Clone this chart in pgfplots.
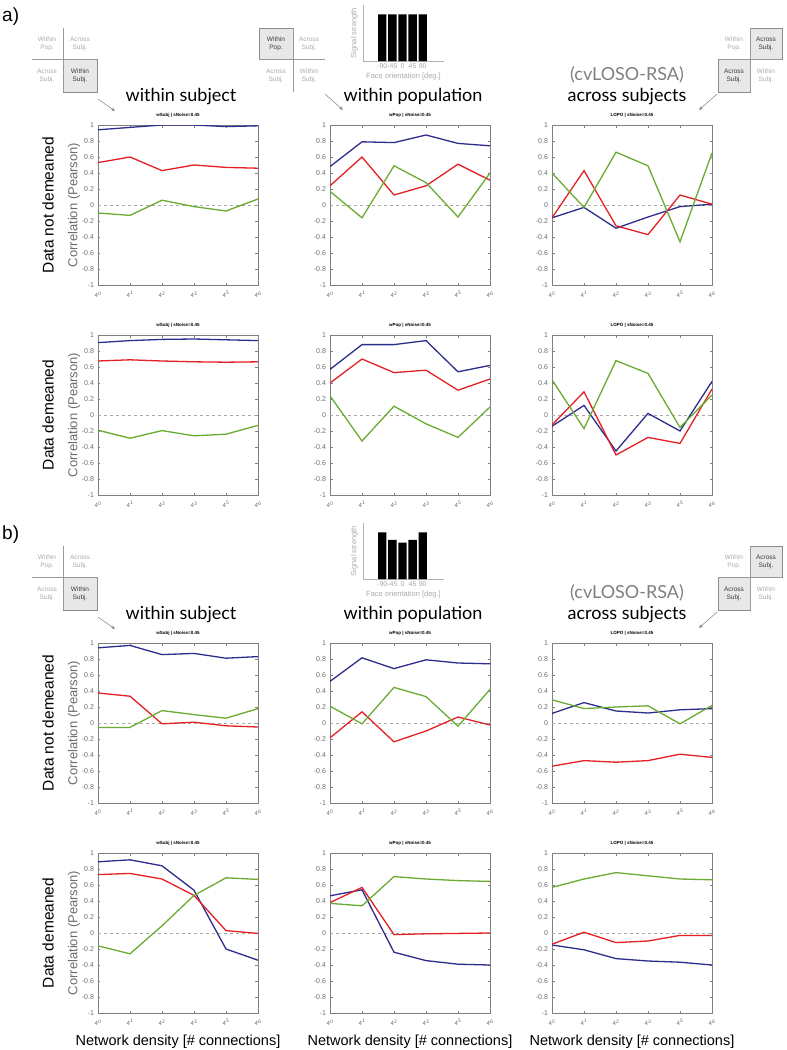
\documentclass[border=0pt]{standalone}
\usepackage{pgfplots}
\pgfplotsset{compat=1.18}
\usepackage{fontspec}
\setmainfont{Liberation Sans}
\newfontfamily\headfont{Lato}
\usetikzlibrary{arrows.meta}

\definecolor{cblue}{RGB}{45,45,140}
\definecolor{cred}{RGB}{228,32,36}
\definecolor{cgreen}{RGB}{106,172,50}
\definecolor{tgray}{RGB}{110,110,110}
\definecolor{lgray}{RGB}{170,170,170}
\definecolor{dgray}{RGB}{60,60,60}

\pgfplotsset{
 panel/.style={
  width=160pt, height=160pt, scale only axis, anchor=north west,
  xmin=0, xmax=5, ymin=-1, ymax=1,
  xtick={0,1,2,3,4,5},
  xticklabels={4\textsuperscript{0},4\textsuperscript{1},4\textsuperscript{2},4\textsuperscript{3},4\textsuperscript{5},4\textsuperscript{6}},
  ytick={-1,-0.8,-0.6,-0.4,-0.2,0,0.2,0.4,0.6,0.8,1},
  yticklabels={-1,-0.8,-0.6,-0.4,-0.2,0,0.2,0.4,0.6,0.8,1},
  tick align=inside, major tick length=2.5pt,
  axis line style={draw=black!50, line width=0.9pt},
  every tick/.style={black!50, line width=0.5pt},
  yticklabel style={font=\fontsize{7}{8}\selectfont, text=tgray, xshift=-0.5pt},
  xticklabel style={font=\fontsize{6}{7}\selectfont, text=tgray, yshift=-3pt},
  title style={font=\bfseries\fontsize{4.5}{5}\selectfont, at={(0.5,1)}, anchor=south, inner sep=1pt},
  every axis plot/.append style={line width=1.3pt},
 },
 inset/.style={
  width=81pt, height=56pt, scale only axis, anchor=south west,
  ybar, bar width=8.4pt, xmin=-1.9, xmax=6.1, ymin=0, ymax=1.2,
  axis x line*=bottom, axis y line*=left,
  axis line style={draw=black!30, line width=0.8pt, -},
  ytick=\empty, xtick={0,1,2,3,4}, xticklabels={-90,-45,0,45,90},
  major tick length=0pt,
  xticklabel style={font=\fontsize{7}{8}\selectfont, text=lgray, inner sep=1pt, yshift=-1pt},
  xlabel={Face orientation [deg.]},
  xlabel style={font=\fontsize{7.5}{8}\selectfont, text=lgray, at={(axis description cs:0.5,0)}, anchor=north, yshift=-12pt, inner sep=0pt},
  ylabel={Signal strength},
  ylabel style={font=\fontsize{7.5}{8}\selectfont, text=lgray, at={(axis description cs:-0.06,0.5)}, anchor=south, inner sep=0pt},
 }
}

\tikzset{
 gl/.style={draw=black!40, line width=0.6pt},
 cellbox/.style={draw=black!45, fill=black!9, line width=0.6pt},
 ct/.style={align=center, font=\fontsize{6.5}{7.5}\selectfont, inner sep=0pt},
 arr/.style={draw=black!50, line width=0.5pt, -{Stealth[length=4pt,width=3pt]}},
 head/.style={anchor=base, font=\headfont\fontsize{18}{20}\selectfont},
}

\newcommand{\leftgrid}{%
 \draw[cellbox] (63pt,-59pt) rectangle (97pt,-92pt);
 \draw[gl] (63pt,-28pt) -- (63pt,-92pt);
 \draw[gl] (32pt,-59pt) -- (97pt,-59pt);
 \node[ct, text=lgray] at (47pt,-44pt) {Within\\Pop.};
 \node[ct, text=lgray] at (80pt,-44pt) {Across\\Subj.};
 \node[ct, text=lgray] at (47pt,-76pt) {Across\\Subj.};
 \node[ct, text=dgray] at (80pt,-76pt) {Within\\Subj.};
 \draw[arr] (98pt,-99pt) -- (115pt,-111pt);
}
\newcommand{\midgrid}{%
 \draw[cellbox] (259pt,-28pt) rectangle (293pt,-59pt);
 \draw[gl] (293pt,-28pt) -- (293pt,-92pt);
 \draw[gl] (259pt,-59pt) -- (325pt,-59pt);
 \node[ct, text=dgray] at (276pt,-44pt) {Within\\Pop.};
 \node[ct, text=lgray] at (309pt,-44pt) {Across\\Subj.};
 \node[ct, text=lgray] at (276pt,-76pt) {Across\\Subj.};
 \node[ct, text=lgray] at (309pt,-76pt) {Within\\Subj.};
 \draw[arr] (325pt,-94pt) -- (343pt,-110pt);
}
\newcommand{\rightgrid}{%
 \draw[cellbox] (750pt,-28pt) rectangle (782pt,-59pt);
 \draw[cellbox] (718pt,-59pt) rectangle (750pt,-92pt);
 \draw[gl] (750pt,-28pt) -- (750pt,-92pt);
 \draw[gl] (718pt,-59pt) -- (782pt,-59pt);
 \node[ct, text=lgray] at (734pt,-44pt) {Within\\Pop.};
 \node[ct, text=dgray] at (766pt,-44pt) {Across\\Subj.};
 \node[ct, text=dgray] at (734pt,-76pt) {Across\\Subj.};
 \node[ct, text=lgray] at (766pt,-76pt) {Within\\Subj.};
 \draw[arr] (717pt,-94pt) -- (699pt,-110pt);
}
\newcommand{\headers}{%
 \node[head] at (181pt,-101pt) {within subject};
 \node[head] at (413pt,-101pt) {within population};
 \node[head, text=black!50] at (627pt,-80pt) {(cvLOSO-RSA)};
 \node[head] at (627pt,-101pt) {across subjects};
}

\begin{document}
\begin{tikzpicture}
\path[use as bounding box, fill=white] (0pt,0pt) rectangle (787pt,-1050pt);

% section labels
\node[anchor=base west, font=\fontsize{19}{20}\selectfont, inner sep=0pt] at (2pt,-21pt) {a)};
\node[anchor=base west, font=\fontsize{19}{20}\selectfont, inner sep=0pt] at (2pt,-539pt) {b)};

\leftgrid \midgrid \rightgrid \headers
\begin{scope}[yshift=-518pt]
\leftgrid \rightgrid \headers
\end{scope}

% row labels
\foreach \yc/\txt in {205/Data not demeaned, 415/Data demeaned, 723/Data not demeaned, 933/Data demeaned}{
 \node[rotate=90, font=\fontsize{15.5}{17}\selectfont] at (48pt,-\yc pt) {\txt};
 \node[rotate=90, font=\fontsize{13}{14}\selectfont, text=tgray] at (74pt,-\yc pt) {Correlation (Pearson)};
}

% bottom x labels
\foreach \xc in {178,410,632}{
 \node[anchor=base, font=\fontsize{14.5}{16}\selectfont] at (\xc pt,-1045pt) {Network density [\# connections]};
}

% ---------- insets ----------
\begin{axis}[inset, at={(363pt,-61pt)}]
\addplot[fill=black, draw=none] coordinates {(0,1) (1,1) (2,1) (3,1) (4,1)};
\end{axis}
\begin{axis}[inset, at={(363pt,-579pt)}]
\addplot[fill=black, draw=none] coordinates {(0,1) (1,0.84) (2,0.78) (3,0.84) (4,1)};
\end{axis}

% ---------- a) row 1 ----------
\begin{axis}[panel, at={(98pt,-125pt)}, title={wSubj | sNoise=0.45}]
\addplot[lgray, dashed, line width=0.7pt] coordinates {(0,0) (5,0)};
\addplot[cblue] coordinates {(0,0.94) (1,0.97) (2,1.0) (3,1.0) (4,0.98) (5,0.99)};
\addplot[cred] coordinates {(0,0.53) (1,0.60) (2,0.43) (3,0.50) (4,0.47) (5,0.46)};
\addplot[cgreen] coordinates {(0,-0.10) (1,-0.13) (2,0.06) (3,-0.02) (4,-0.075) (5,0.075)};
\end{axis}
\begin{axis}[panel, at={(330pt,-125pt)}, title={wPop | sNoise=0.45}]
\addplot[lgray, dashed, line width=0.7pt] coordinates {(0,0) (5,0)};
\addplot[cblue] coordinates {(0,0.48) (1,0.79) (2,0.78) (3,0.875) (4,0.77) (5,0.74)};
\addplot[cred] coordinates {(0,0.24) (1,0.60) (2,0.125) (3,0.24) (4,0.51) (5,0.31)};
\addplot[cgreen] coordinates {(0,0.17) (1,-0.16) (2,0.49) (3,0.28) (4,-0.15) (5,0.40)};
\end{axis}
\begin{axis}[panel, at={(552pt,-125pt)}, title={LOPO | sNoise=0.45}]
\addplot[lgray, dashed, line width=0.7pt] coordinates {(0,0) (5,0)};
\addplot[cblue] coordinates {(0,-0.16) (1,-0.03) (2,-0.29) (3,-0.15) (4,-0.02) (5,0.01)};
\addplot[cred] coordinates {(0,-0.16) (1,0.43) (2,-0.26) (3,-0.37) (4,0.125) (5,0.01)};
\addplot[cgreen] coordinates {(0,0.40) (1,-0.03) (2,0.66) (3,0.49) (4,-0.46) (5,0.65)};
\end{axis}

% ---------- a) row 2 ----------
\begin{axis}[panel, at={(98pt,-335pt)}, title={wSubj | sNoise=0.45}]
\addplot[lgray, dashed, line width=0.7pt] coordinates {(0,0) (5,0)};
\addplot[cblue] coordinates {(0,0.905) (1,0.93) (2,0.945) (3,0.95) (4,0.94) (5,0.93)};
\addplot[cred] coordinates {(0,0.675) (1,0.69) (2,0.675) (3,0.665) (4,0.66) (5,0.665)};
\addplot[cgreen] coordinates {(0,-0.19) (1,-0.29) (2,-0.195) (3,-0.26) (4,-0.24) (5,-0.13)};
\end{axis}
\begin{axis}[panel, at={(330pt,-335pt)}, title={wPop | sNoise=0.45}]
\addplot[lgray, dashed, line width=0.7pt] coordinates {(0,0) (5,0)};
\addplot[cblue] coordinates {(0,0.57) (1,0.88) (2,0.88) (3,0.93) (4,0.54) (5,0.62)};
\addplot[cred] coordinates {(0,0.40) (1,0.70) (2,0.53) (3,0.56) (4,0.31) (5,0.45)};
\addplot[cgreen] coordinates {(0,0.24) (1,-0.325) (2,0.11) (3,-0.11) (4,-0.28) (5,0.10)};
\end{axis}
\begin{axis}[panel, at={(552pt,-335pt)}, title={LOPO | sNoise=0.45}]
\addplot[lgray, dashed, line width=0.7pt] coordinates {(0,0) (5,0)};
\addplot[cblue] coordinates {(0,-0.14) (1,0.12) (2,-0.45) (3,0.02) (4,-0.20) (5,0.42)};
\addplot[cred] coordinates {(0,-0.125) (1,0.29) (2,-0.50) (3,-0.28) (4,-0.355) (5,0.325)};
\addplot[cgreen] coordinates {(0,0.44) (1,-0.17) (2,0.68) (3,0.52) (4,-0.155) (5,0.25)};
\end{axis}

% ---------- b) row 1 ----------
\begin{axis}[panel, at={(98pt,-643pt)}, title={wSubj | sNoise=0.45}]
\addplot[lgray, dashed, line width=0.7pt] coordinates {(0,0) (5,0)};
\addplot[cblue] coordinates {(0,0.94) (1,0.97) (2,0.855) (3,0.87) (4,0.81) (5,0.83)};
\addplot[cred] coordinates {(0,0.375) (1,0.335) (2,-0.01) (3,0.01) (4,-0.035) (5,-0.05)};
\addplot[cgreen] coordinates {(0,-0.055) (1,-0.055) (2,0.155) (3,0.105) (4,0.06) (5,0.18)};
\end{axis}
\begin{axis}[panel, at={(330pt,-643pt)}, title={wPop | sNoise=0.45}]
\addplot[lgray, dashed, line width=0.7pt] coordinates {(0,0) (5,0)};
\addplot[cblue] coordinates {(0,0.52) (1,0.815) (2,0.68) (3,0.79) (4,0.75) (5,0.74)};
\addplot[cred] coordinates {(0,-0.185) (1,0.14) (2,-0.235) (3,-0.10) (4,0.075) (5,-0.025)};
\addplot[cgreen] coordinates {(0,0.21) (1,-0.01) (2,0.445) (3,0.33) (4,-0.04) (5,0.42)};
\end{axis}
\begin{axis}[panel, at={(552pt,-643pt)}, title={LOPO | sNoise=0.45}]
\addplot[lgray, dashed, line width=0.7pt] coordinates {(0,0) (5,0)};
\addplot[cblue] coordinates {(0,0.12) (1,0.255) (2,0.15) (3,0.125) (4,0.165) (5,0.18)};
\addplot[cred] coordinates {(0,-0.54) (1,-0.47) (2,-0.49) (3,-0.47) (4,-0.39) (5,-0.43)};
\addplot[cgreen] coordinates {(0,0.29) (1,0.18) (2,0.20) (3,0.215) (4,-0.01) (5,0.22)};
\end{axis}

% ---------- b) row 2 ----------
\begin{axis}[panel, at={(98pt,-853pt)}, title={wSubj | sNoise=0.45}]
\addplot[lgray, dashed, line width=0.7pt] coordinates {(0,0) (5,0)};
\addplot[cblue] coordinates {(0,0.89) (1,0.915) (2,0.84) (3,0.535) (4,-0.20) (5,-0.34)};
\addplot[cred] coordinates {(0,0.73) (1,0.745) (2,0.675) (3,0.47) (4,0.03) (5,-0.005)};
\addplot[cgreen] coordinates {(0,-0.16) (1,-0.26) (2,0.09) (3,0.47) (4,0.69) (5,0.67)};
\end{axis}
\begin{axis}[panel, at={(330pt,-853pt)}, title={wPop | sNoise=0.45}]
\addplot[lgray, dashed, line width=0.7pt] coordinates {(0,0) (5,0)};
\addplot[cblue] coordinates {(0,0.465) (1,0.54) (2,-0.24) (3,-0.345) (4,-0.39) (5,-0.40)};
\addplot[cred] coordinates {(0,0.38) (1,0.57) (2,-0.02) (3,-0.01) (4,-0.005) (5,0.0)};
\addplot[cgreen] coordinates {(0,0.37) (1,0.34) (2,0.705) (3,0.675) (4,0.655) (5,0.645)};
\end{axis}
\begin{axis}[panel, at={(552pt,-853pt)}, title={LOPO | sNoise=0.45}]
\addplot[lgray, dashed, line width=0.7pt] coordinates {(0,0) (5,0)};
\addplot[cblue] coordinates {(0,-0.15) (1,-0.21) (2,-0.32) (3,-0.35) (4,-0.365) (5,-0.40)};
\addplot[cred] coordinates {(0,-0.14) (1,0.01) (2,-0.12) (3,-0.10) (4,-0.03) (5,-0.03)};
\addplot[cgreen] coordinates {(0,0.57) (1,0.675) (2,0.755) (3,0.715) (4,0.675) (5,0.665)};
\end{axis}
\end{tikzpicture}
\end{document}
